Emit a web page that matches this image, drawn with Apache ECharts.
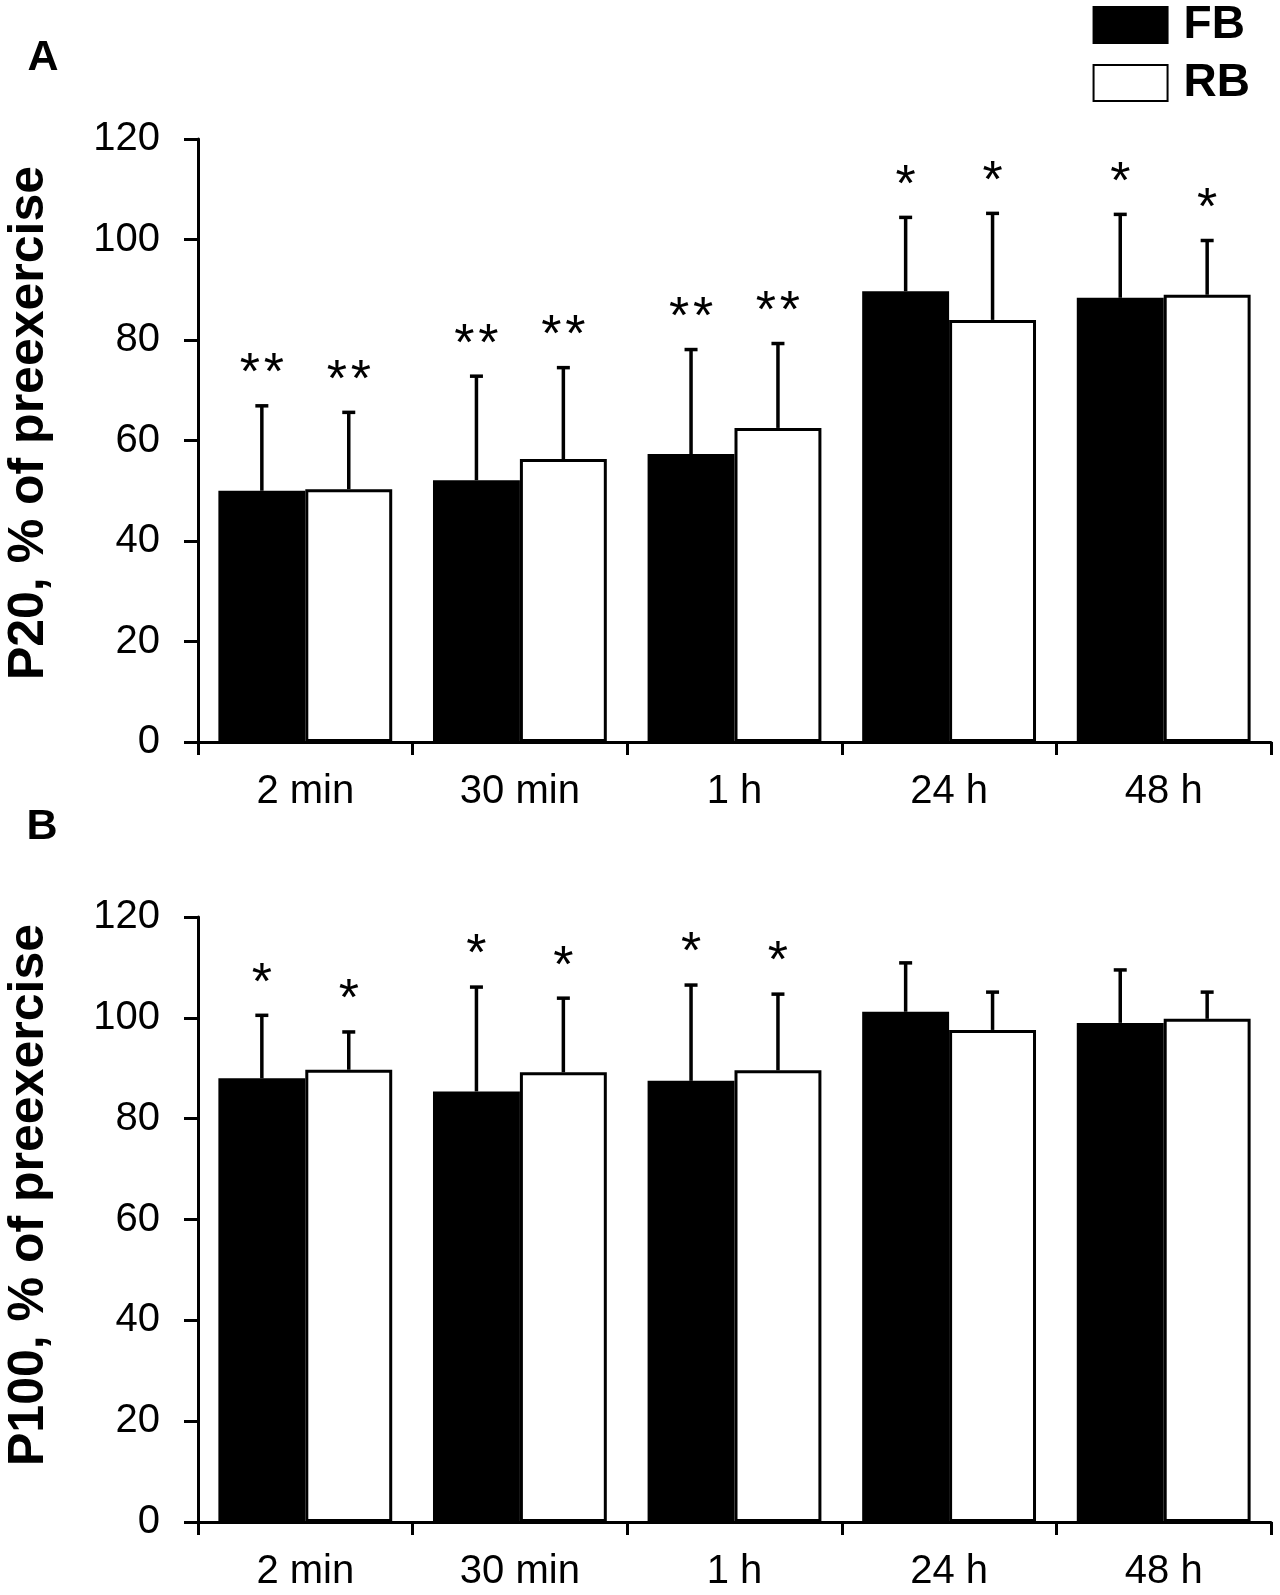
<!DOCTYPE html>
<html>
<head>
<meta charset="utf-8">
<script src="https://cdn.jsdelivr.net/npm/echarts@6/dist/echarts.min.js"></script>
<style>html,body{margin:0;padding:0;background:#fff}#c{width:1280px;height:1595px}</style>
</head>
<body>
<div id="c"></div>
<script>
var categories = ['2 min', '30 min', '1 h', '24 h', '48 h'];
var yTicks = [0, 20, 40, 60, 80, 100, 120];

// Panel A: P20
var p20FB = [50.0, 52.1, 57.3, 89.7, 88.4];
var p20FBsd = [16.9, 20.7, 20.8, 14.7, 16.6];
var p20RB = [50.3, 56.3, 62.5, 84.0, 89.0];
var p20RBsd = [15.3, 18.2, 16.8, 21.2, 10.8];
var p20FBstars = ['**', '**', '**', '*', '*'];
var p20RBstars = ['**', '**', '**', '*', '*'];

// Panel B: P100
var p100FB = [88.0, 85.4, 87.5, 101.2, 99.0];
var p100FBsd = [12.5, 20.7, 19.0, 9.7, 10.5];
var p100RB = [89.7, 89.2, 89.6, 97.6, 99.8];
var p100RBsd = [7.5, 14.7, 15.1, 7.5, 5.3];
var p100FBstars = ['*', '*', '*', '', ''];
var p100RBstars = ['*', '*', '*', '', ''];

var FONT = "'Liberation Sans', Arial, sans-serif";
var chart = echarts.init(document.getElementById('c'));

function errRender(sdArr, starsArr, side) {
  return function (params, api) {
    var i = api.value(0), m = api.value(1), sd = sdArr[params.dataIndex];
    var c = api.coord([i, m]);
    var t = api.coord([i, m + sd]);
    var bw = api.size([1, 0])[0] * 0.405;
    var x = c[0] + side * bw / 2;
    var st = { stroke: '#000', lineWidth: 3.5 };
    var children = [
      { type: 'line', shape: { x1: x, y1: c[1], x2: x, y2: t[1] }, style: st },
      { type: 'line', shape: { x1: x - 6.5, y1: t[1], x2: x + 6.5, y2: t[1] }, style: st }
    ];
    var s = starsArr[params.dataIndex];
    var ty = t[1] - 31;
    var xs = s.length === 2 ? [x - 12, x + 12] : (s.length === 1 ? [x] : []);
    xs.forEach(function (sx) {
      children.push({ type: 'text', x: sx, y: ty, style: { text: '*', fill: '#000', font: '52px ' + FONT, align: 'center', verticalAlign: 'middle' } });
    });
    return { type: 'group', children: children };
  };
}

function xAxis(gi) {
  return {
    type: 'category', gridIndex: gi, data: categories,
    axisLine: { lineStyle: { color: '#000', width: 3 } },
    axisTick: { show: true, length: 13, lineStyle: { color: '#000', width: 3 } },
    axisLabel: { color: '#000', fontSize: 40, fontFamily: FONT, margin: 30 },
    splitLine: { show: false }
  };
}
function yAxis(gi) {
  return {
    type: 'value', gridIndex: gi, min: yTicks[0], max: yTicks[yTicks.length - 1], interval: yTicks[1] - yTicks[0],
    axisLine: { show: true, lineStyle: { color: '#000', width: 3 } },
    axisTick: { show: true, length: 14, lineStyle: { color: '#000', width: 3 } },
    axisLabel: { color: '#000', fontSize: 40, fontFamily: FONT, margin: 38 },
    splitLine: { show: false }
  };
}
function pairIdx(arr) { return arr.map(function (v, i) { return [i, v]; }); }

var fbStyle = { color: '#000', borderColor: '#000', borderWidth: 3 };
var rbStyle = { color: '#fff', borderColor: '#000', borderWidth: 3 };

var option = {
  animation: false,
  backgroundColor: '#fff',
  legend: {
    data: ['FB', 'RB'], orient: 'vertical', right: 30, top: 2, padding: 0,
    itemWidth: 74, itemHeight: 36, itemGap: 12, selectedMode: false,
    icon: 'rect',
    textStyle: { color: '#000', fontSize: 46, fontWeight: 'bold', fontFamily: FONT, lineHeight: 46, padding: [0, 0, 0, 11] }
  },
  grid: [
    { left: 198, right: 9, top: 139, height: 603 },
    { left: 198, right: 9, top: 917, height: 605 }
  ],
  xAxis: [xAxis(0), xAxis(1)],
  yAxis: [yAxis(0), yAxis(1)],
  graphic: [
    { type: 'text', x: 43, y: 58, style: { text: 'A', font: 'bold 43px ' + FONT, fill: '#000', align: 'center', verticalAlign: 'middle' } },
    { type: 'text', x: 42, y: 827, style: { text: 'B', font: 'bold 43px ' + FONT, fill: '#000', align: 'center', verticalAlign: 'middle' } },
    { type: 'text', x: 29, y: 423, rotation: Math.PI / 2, style: { text: 'P20, % of preexercise', font: 'bold 50px ' + FONT, fill: '#000', align: 'center', verticalAlign: 'middle' } },
    { type: 'text', x: 29, y: 1195, rotation: Math.PI / 2, style: { text: 'P100, % of preexercise', font: 'bold 50px ' + FONT, fill: '#000', align: 'center', verticalAlign: 'middle' } }
  ],
  series: [
    { name: 'FB', type: 'bar', xAxisIndex: 0, yAxisIndex: 0, data: p20FB, barWidth: '40.5%', barGap: '0%', itemStyle: fbStyle },
    { name: 'RB', type: 'bar', xAxisIndex: 0, yAxisIndex: 0, data: p20RB, barWidth: '40.5%', barGap: '0%', itemStyle: rbStyle },
    { name: 'FB', type: 'bar', xAxisIndex: 1, yAxisIndex: 1, data: p100FB, barWidth: '40.5%', barGap: '0%', itemStyle: fbStyle },
    { name: 'RB', type: 'bar', xAxisIndex: 1, yAxisIndex: 1, data: p100RB, barWidth: '40.5%', barGap: '0%', itemStyle: rbStyle },
    { type: 'custom', xAxisIndex: 0, yAxisIndex: 0, data: pairIdx(p20FB), encode: { x: 0, y: 1 }, renderItem: errRender(p20FBsd, p20FBstars, -1), z: 5 },
    { type: 'custom', xAxisIndex: 0, yAxisIndex: 0, data: pairIdx(p20RB), encode: { x: 0, y: 1 }, renderItem: errRender(p20RBsd, p20RBstars, 1), z: 5 },
    { type: 'custom', xAxisIndex: 1, yAxisIndex: 1, data: pairIdx(p100FB), encode: { x: 0, y: 1 }, renderItem: errRender(p100FBsd, p100FBstars, -1), z: 5 },
    { type: 'custom', xAxisIndex: 1, yAxisIndex: 1, data: pairIdx(p100RB), encode: { x: 0, y: 1 }, renderItem: errRender(p100RBsd, p100RBstars, 1), z: 5 }
  ]
};
chart.setOption(option);
</script>
</body>
</html>
